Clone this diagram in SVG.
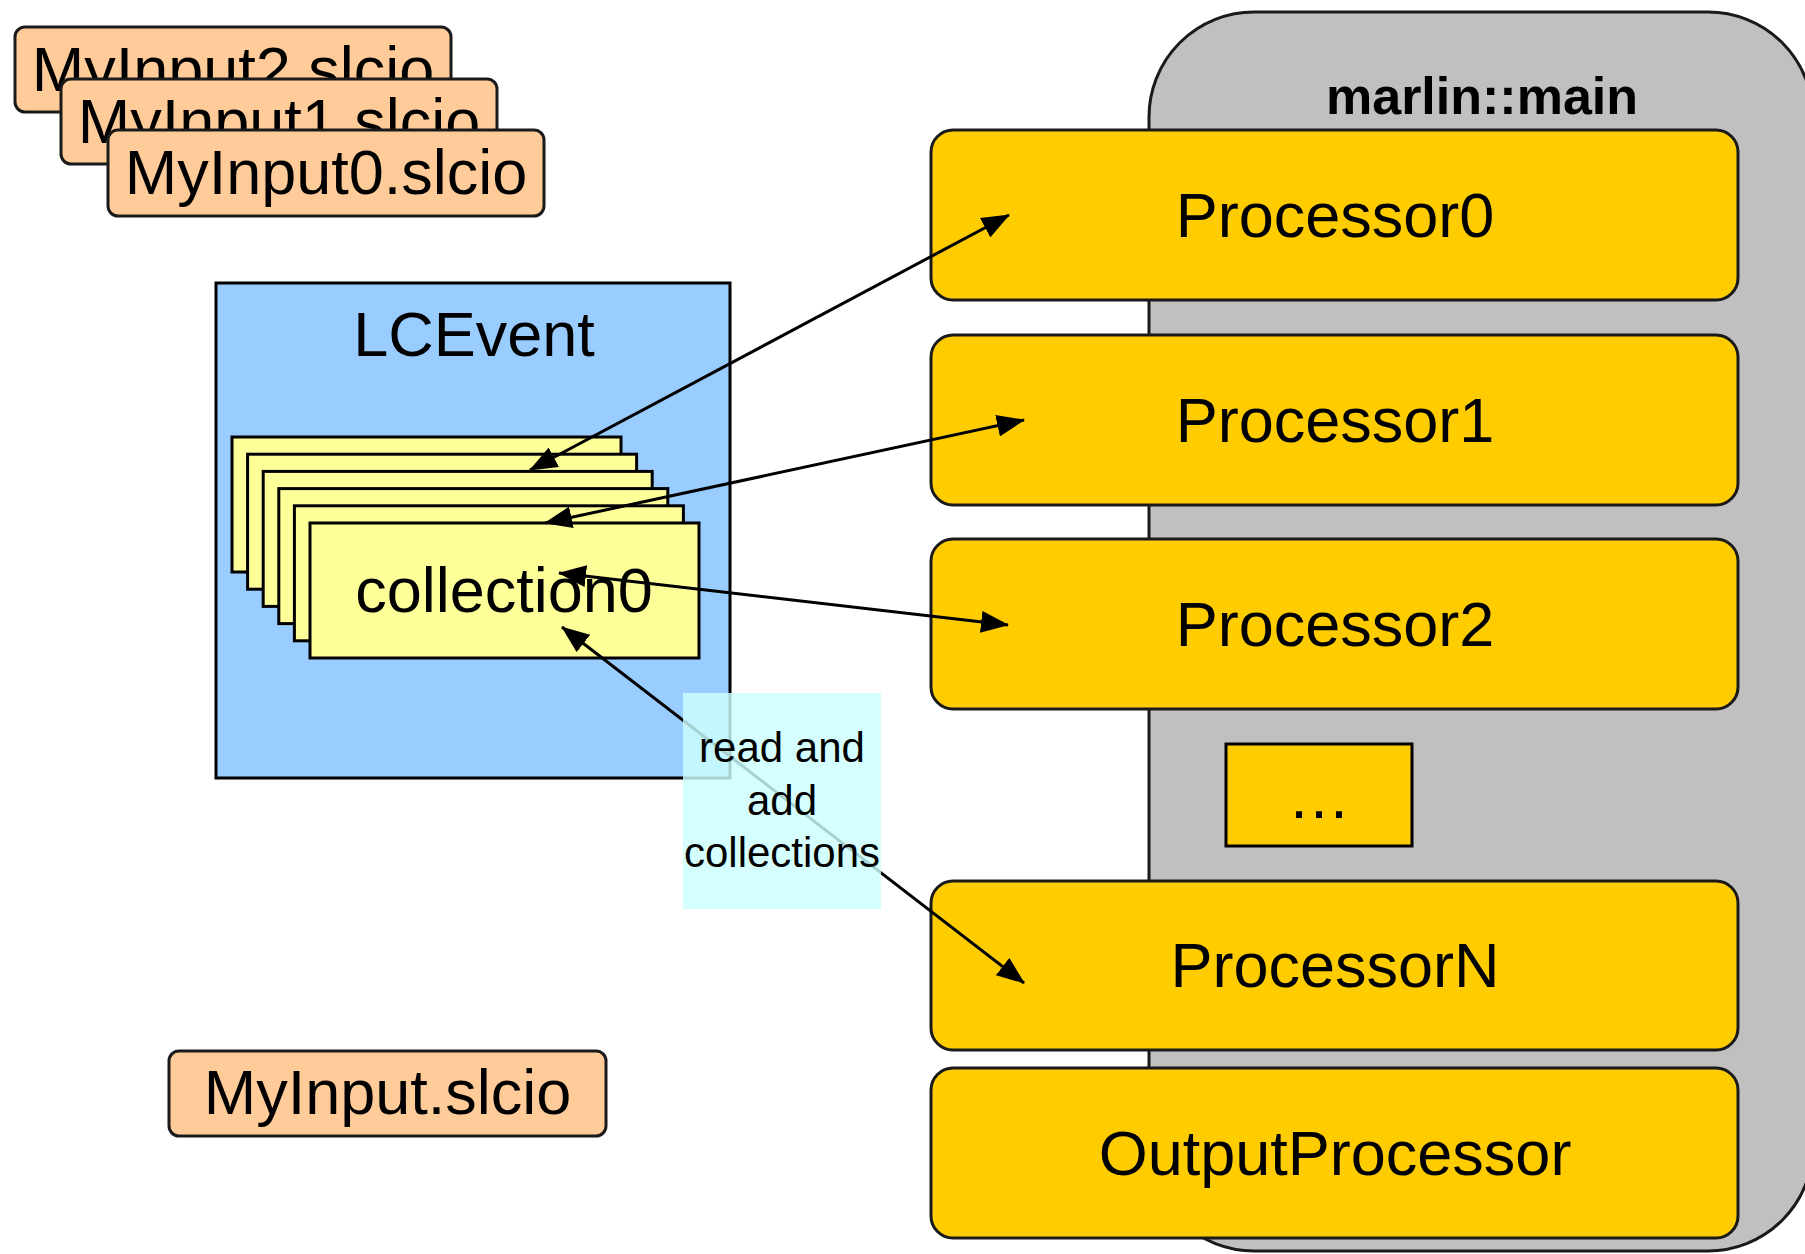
<svg xmlns="http://www.w3.org/2000/svg" width="1805" height="1254" viewBox="0 0 1805 1254">
<style>
text{font-family:"Liberation Sans",Arial,Helvetica,sans-serif;fill:#000}
.big{font-size:63px;text-anchor:middle}
.file{fill:#FFCC99;stroke:#1a1a1a;stroke-width:3}
.proc{fill:#FFCC00;stroke:#1a1a1a;stroke-width:3}
.coll{fill:#FFFF99;stroke:#000;stroke-width:3}
.conn{stroke:#000;stroke-width:3;fill:none;marker-start:url(#ah);marker-end:url(#ah)}
</style>
<defs>
<marker id="ah" viewBox="0 0 28 22" refX="27" refY="11" markerWidth="28" markerHeight="22" markerUnits="userSpaceOnUse" orient="auto-start-reverse">
<path d="M0,0 L28,11 L0,22 z" fill="#000"/>
</marker>
</defs>
<rect width="1805" height="1254" fill="#fff"/>

<g id="marlin-main">
<rect x="1149" y="12" width="664" height="1239" rx="105" ry="105" fill="#C0C0C0" stroke="#1a1a1a" stroke-width="3"/>
<text x="1482" y="114" font-size="52" font-weight="bold" text-anchor="middle">marlin::main</text>
</g>

<g id="input2">
<rect class="file" x="15" y="27" width="436" height="85" rx="10"/>
<text class="big" x="233" y="91">MyInput2.slcio</text>
</g>
<g id="input1">
<rect class="file" x="61" y="79" width="436" height="85" rx="10"/>
<text class="big" x="279" y="143">MyInput1.slcio</text>
</g>
<g id="input0">
<rect class="file" x="108" y="130" width="436" height="86" rx="10"/>
<text class="big" x="326" y="194">MyInput0.slcio</text>
</g>

<g id="input">
<rect class="file" x="169" y="1051" width="437" height="85" rx="10"/>
<text class="big" x="387.5" y="1114">MyInput.slcio</text>
</g>

<g id="lcevent">
<rect x="216" y="283" width="514" height="495" fill="#99CCFF" stroke="#000" stroke-width="3"/>
<text class="big" x="474" y="356">LCEvent</text>
</g>

<g id="collections">
<rect class="coll" x="232" y="437" width="389" height="135"/>
<rect class="coll" x="247.6" y="454.2" width="389" height="135"/>
<rect class="coll" x="263.2" y="471.4" width="389" height="135"/>
<rect class="coll" x="278.8" y="488.6" width="389" height="135"/>
<rect class="coll" x="294.4" y="505.8" width="389" height="135"/>
<rect class="coll" x="310" y="523" width="389" height="135"/>
<text class="big" x="504" y="612">collection0</text>
</g>

<g id="processor0">
<rect class="proc" x="931" y="130" width="807" height="170" rx="22"/>
<text class="big" x="1335" y="237">Processor0</text>
</g>
<g id="processor1">
<rect class="proc" x="931" y="335" width="807" height="170" rx="22"/>
<text class="big" x="1335" y="442">Processor1</text>
</g>
<g id="processor2">
<rect class="proc" x="931" y="539" width="807" height="170" rx="22"/>
<text class="big" x="1335" y="646">Processor2</text>
</g>
<g id="ellipsis">
<rect x="1226" y="744" width="186" height="102" fill="#FFCC00" stroke="#000" stroke-width="3"/>
<text class="big" x="1319" y="818">…</text>
</g>
<g id="processorN">
<rect class="proc" x="931" y="881" width="807" height="169" rx="22"/>
<text class="big" x="1335" y="987">ProcessorN</text>
</g>
<g id="outputprocessor">
<rect class="proc" x="931" y="1068" width="807" height="170" rx="22"/>
<text class="big" x="1335" y="1175">OutputProcessor</text>
</g>

<g id="connectors">
<line class="conn" x1="530" y1="470" x2="1009" y2="215"/>
<line class="conn" x1="545" y1="523" x2="1024" y2="420"/>
<line class="conn" x1="559" y1="573" x2="1008" y2="625"/>
<line class="conn" x1="562" y1="627" x2="1024" y2="983"/>
</g>

<g id="label">
<rect x="683" y="693" width="198" height="216" fill="#CCFFFF" fill-opacity="0.82"/>
<text font-size="42" text-anchor="middle" x="782" y="762">read and</text>
<text font-size="42" text-anchor="middle" x="782" y="815">add</text>
<text font-size="42" text-anchor="middle" x="782" y="867">collections</text>
</g>
</svg>
